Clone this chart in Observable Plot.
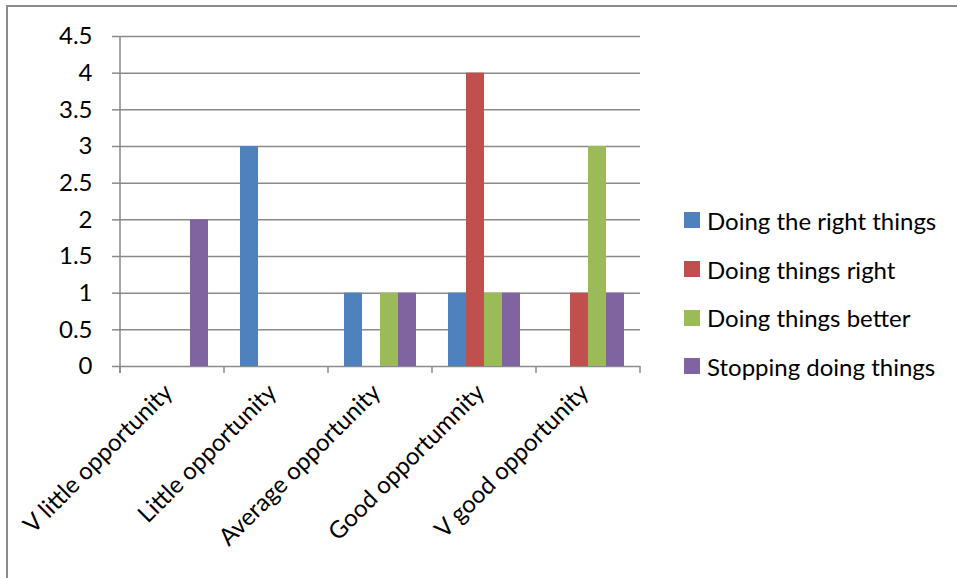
<!DOCTYPE html>
<html>
<head>
<meta charset="utf-8">
<script src="https://cdn.jsdelivr.net/npm/d3@7"></script>
<script src="https://cdn.jsdelivr.net/npm/@observablehq/plot@0.6"></script>
<style>
  body { margin: 0; background: #fff; }
  #chart { position: relative; width: 957px; height: 578px; overflow: hidden; font-family: Lato, "Open Sans", sans-serif; }
  #frame { position: absolute; left: 6px; top: 5px; right: -10px; bottom: -10px; border-left: 2px solid #8a8a8a; border-top: 2px solid #8a8a8a; pointer-events: none; }
  #legend { position: absolute; left: 684px; top: 196px; }
  .item { display: flex; align-items: center; height: 48.7px; font-size: 24px; color: #000; white-space: nowrap; }
  .sw { width: 16px; height: 16px; margin-right: 7px; flex: none; }
</style>
</head>
<body>
<div id="chart"><div id="legend"></div><div id="frame"></div></div>
<script>
// Opportunity ratings on the category axis
const categories = ["V little opportunity", "Little opportunity", "Average opportunity", "Good opportumnity", "V good opportunity"];

// Series names and their colours
const series = ["Doing the right things", "Doing things right", "Doing things better", "Stopping doing things"];
const colors = ["#4F81BD", "#C0504D", "#9BBB59", "#8064A2"];

// Counts per category for each series
const doingTheRightThings = [0, 3, 1, 1, 0];
const doingThingsRight    = [0, 0, 0, 4, 1];
const doingThingsBetter   = [0, 0, 1, 1, 3];
const stoppingDoingThings = [2, 0, 1, 1, 1];

// Value axis ticks
const yTicks = [0, 0.5, 1, 1.5, 2, 2.5, 3, 3.5, 4, 4.5];

const seriesValues = [doingTheRightThings, doingThingsRight, doingThingsBetter, stoppingDoingThings];
const rows = [];
categories.forEach((category, i) => {
  series.forEach((s, j) => rows.push({category, series: s, value: seriesValues[j][i]}));
});

const gridColor = "#8a8a8a";

const plot = Plot.plot({
  width: 957,
  height: 578,
  marginLeft: 118,
  marginRight: 316,
  marginTop: 36,
  marginBottom: 212,
  style: {fontFamily: "Lato, 'Open Sans', sans-serif", fontSize: "24px", color: "#000", background: "transparent", overflow: "visible"},
  fx: {domain: categories, padding: 0, label: null},
  x: {domain: series, paddingInner: 0, paddingOuter: 0.75, axis: null},
  y: {domain: [0, 4.5], label: null},
  color: {domain: series, range: colors},
  marks: [
    Plot.gridY(yTicks, {stroke: gridColor, strokeOpacity: 1, strokeWidth: 1.5}),
    Plot.barY(rows.filter(d => d.value > 0), {fx: "category", x: "series", y: "value", fill: "series"}),
    Plot.axisY(yTicks, {tickSize: 8, tickPadding: 20, tickFormat: d => String(d), stroke: gridColor, fill: "#000", strokeWidth: 1.5, fontSize: 24, label: null}),
    Plot.axisFx({anchor: "bottom", tickSize: 0, tickRotate: -45, tickPadding: 22, dx: -4, fill: "#000", fontSize: 24, label: null})
  ]
});

// Category boundary ticks and the vertical value axis line
const fx = plot.scale("fx");
const y = plot.scale("y");
const y0 = y.apply(0), yTop = y.apply(4.5);
const edges = categories.map(c => fx.apply(c));
edges.push(fx.apply(categories[categories.length - 1]) + fx.bandwidth);
const g = d3.select(plot).append("g").attr("stroke", gridColor).attr("stroke-width", 1.5);
g.append("line").attr("x1", edges[0]).attr("x2", edges[0]).attr("y1", yTop).attr("y2", y0 + 7);
g.selectAll("line.edge").data(edges).join("line").attr("class", "edge")
  .attr("x1", d => d).attr("x2", d => d).attr("y1", y0).attr("y2", y0 + 7);

document.getElementById("chart").prepend(plot);
plot.style.position = "absolute";
plot.style.left = "0";
plot.style.top = "0";

// Legend at the right of the plot
const legend = d3.select("#legend");
series.forEach((s, j) => {
  const item = legend.append("div").attr("class", "item");
  item.append("div").attr("class", "sw").style("background", colors[j]);
  item.append("span").text(s);
});
</script>
</body>
</html>
